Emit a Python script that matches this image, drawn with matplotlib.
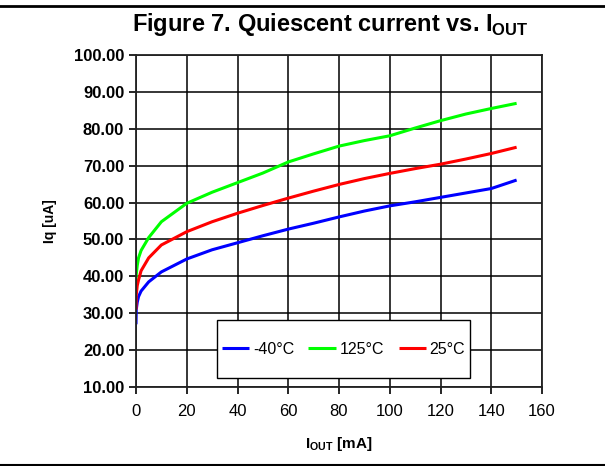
import matplotlib
matplotlib.use("Agg")
import matplotlib.pyplot as plt
from matplotlib.lines import Line2D
from matplotlib.patches import Rectangle

plt.rcParams['font.family'] = ['Liberation Sans', 'DejaVu Sans']
plt.rcParams['mathtext.fontset'] = 'custom'
plt.rcParams['mathtext.rm'] = 'Liberation Sans'
plt.rcParams['mathtext.bf'] = 'Liberation Sans:bold'

iout = [0, 0.1, 0.5, 1, 2, 5, 10, 20, 30, 40, 50, 60, 70, 80, 90, 100, 110, 120, 130, 140, 150]
iq_m40 = [27, 31, 33, 34.5, 36, 38.5, 41.2, 44.7, 47.2, 49.1, 51, 52.8, 54.4, 56.1, 57.7, 59.1, 60.2, 61.4, 62.6, 63.8, 66.1]
iq_125 = [38, 40.5, 43, 45, 47, 50.5, 54.8, 59.8, 62.8, 65.4, 68, 71, 73.2, 75.3, 76.8, 78.1, 80.2, 82.2, 84, 85.5, 86.9]
iq_25 = [31, 35, 37.5, 39, 41.5, 45, 48.5, 52.1, 54.8, 57.1, 59.2, 61.2, 63.1, 64.9, 66.5, 67.9, 69.2, 70.4, 71.8, 73.3, 75.0]
labels = ['-40°C', '125°C', '25°C']
colors = ['#0000ff', '#00ff00', '#ff0000']
xticks = list(range(0, 161, 20))
yticks = list(range(10, 101, 10))

fig = plt.figure(figsize=(6.05, 4.66), dpi=100)
ax = fig.add_axes([136/605, 1-387/466, (542-136)/605, (387-55)/466])

for ys, lab, c in zip([iq_m40, iq_125, iq_25], labels, colors):
    ax.plot(iout, ys, color=c, lw=2.2, label=lab, solid_capstyle='butt')

ax.set_xlim(0, 160)
ax.set_ylim(10, 100)
ax.set_xticks(xticks)
ax.set_yticks(yticks)
ax.set_yticklabels([f"{v:.2f}" for v in yticks], fontweight='bold')
ax.tick_params(axis='both', labelsize=12, length=5, width=1.2, direction='out', color='black')
ax.tick_params(axis='x', pad=7)
ax.grid(True, color='black', lw=1.1)
for s in ax.spines.values():
    s.set_color('#222222')
    s.set_linewidth(1.3)

ax.set_ylabel('Iq [uA]', fontsize=10, fontweight='bold', labelpad=12)
ax.set_xlabel(r'I$_{\mathbf{OUT}}$ [mA]', fontsize=11, fontweight='bold', labelpad=12)

# legend frame drawn as its own box
bx0, bx1 = (217-136)/406, (470-136)/406
by0, by1 = (387-378)/332, (387-320)/332
ax.add_patch(Rectangle((bx0, by0), bx1-bx0, by1-by0, transform=ax.transAxes,
                       facecolor='white', edgecolor='black', lw=1.0, zorder=5))
leg = ax.legend(loc='center', bbox_to_anchor=((bx0+bx1)/2, (by0+by1)/2),
                ncol=3, frameon=False, fontsize=11.5,
                handlelength=1.7, handletextpad=0.25, columnspacing=0.9, borderaxespad=0)
leg.set_zorder(6)

fig.text(330/605, 1-24/466, r'Figure 7. Quiescent current vs. I$_{\mathbf{OUT}}$', ha='center', va='center',
         fontsize=17, fontweight='bold')

fig.add_artist(Line2D([0, 1], [1-6/466, 1-6/466], color='black', lw=2, transform=fig.transFigure))
fig.add_artist(Line2D([0, 1], [1-464.5/466, 1-464.5/466], color='black', lw=1.5, transform=fig.transFigure))

fig.savefig('out.png', dpi=100)
